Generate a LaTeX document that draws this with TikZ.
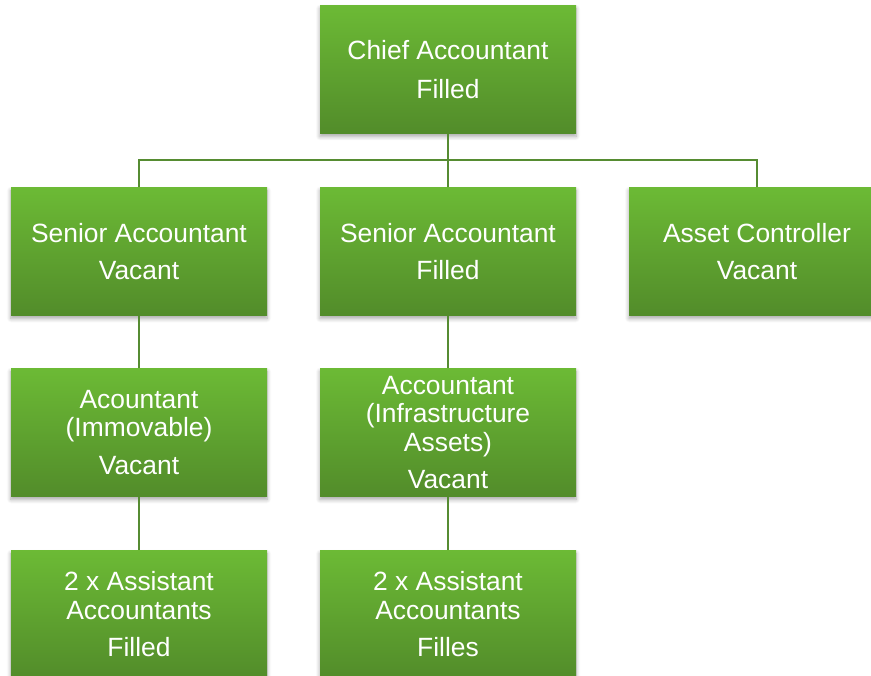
\documentclass[tikz,border=0pt]{standalone}
\usepackage{fontspec}
\setmainfont{Liberation Sans}
\usetikzlibrary{shadows.blur}
\definecolor{gtop}{RGB}{108,186,53}
\definecolor{gbot}{RGB}{82,140,42}
\definecolor{lineg}{RGB}{86,140,50}
\begin{document}
\begin{tikzpicture}[x=1pt,y=-1pt,
  box/.style={rectangle, minimum width=256pt, minimum height=128pt, inner sep=0pt,
    top color=gtop, bottom color=gbot, draw=none, text=white, align=center,
    font=\fontsize{26.4}{28.5}\selectfont,
    blur shadow={shadow xshift=0pt, shadow yshift=-3pt, shadow blur radius=4pt, shadow blur steps=6, shadow opacity=35}},
  conn/.style={draw=lineg, line width=1.6pt}]
\useasboundingbox (0,0) rectangle (871,676);
% nodes
\node[box] (chief) at (448,69.5) {Chief Accountant\\[10pt]Filled};
\node[box] (s1) at (139,251.5) {Senior Accountant\\[9pt]Vacant};
\node[box] (s2) at (448,251.5) {Senior Accountant\\[9pt]Filled};
\node[box] (ac) at (757,251.5) {Asset Controller\\[9pt]Vacant};
\node[box] (a1) at (139,432.5) {Acountant\\(Immovable)\\[9pt]Vacant};
\node[box] (a2) at (448,432.5) {Accountant\\(Infrastructure\\Assets)\\[9pt]Vacant};
\node[box] (p1) at (139,614.5) {2 x Assistant\\Accountants\\[9pt]Filled};
\node[box] (p2) at (448,614.5) {2 x Assistant\\Accountants\\[9pt]Filles};
% connectors
\coordinate (bus) at (448,160);
\draw[conn] (chief.south) -- (bus);
\draw[conn] (s1.north) |- (bus);
\draw[conn] (s2.north) -- (bus);
\draw[conn] (ac.north) |- (bus);
\draw[conn] (s1.south) -- (a1.north);
\draw[conn] (s2.south) -- (a2.north);
\draw[conn] (a1.south) -- (p1.north);
\draw[conn] (a2.south) -- (p2.north);
\end{tikzpicture}
\end{document}
